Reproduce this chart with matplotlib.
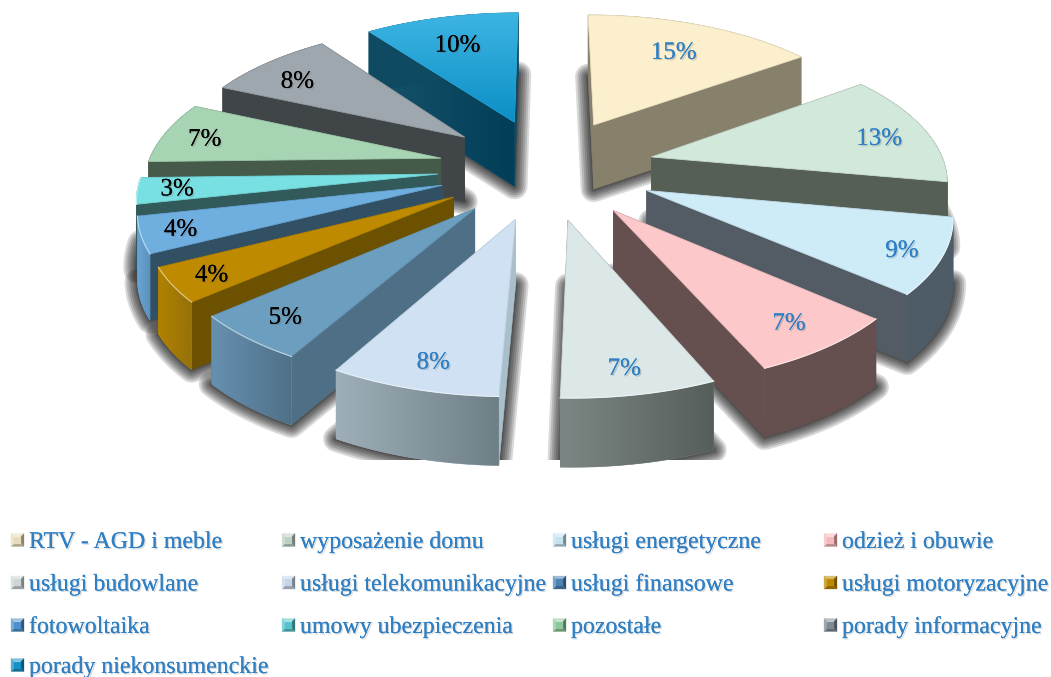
import numpy as np
from matplotlib import pyplot as plt
from matplotlib import patheffects as pe
from matplotlib.colors import LinearSegmentedColormap, to_rgb
from matplotlib.patches import Polygon, Rectangle

labels = ['RTV - AGD i meble', 'wyposażenie domu', 'usługi energetyczne', 'odzież i obuwie',
          'usługi budowlane', 'usługi telekomunikacyjne', 'usługi finansowe', 'usługi motoryzacyjne',
          'fotowoltaika', 'umowy ubezpieczenia', 'pozostałe', 'porady informacyjne',
          'porady niekonsumenckie']
# labels show these rounded, the slices use the finer share
values = [15, 12.9, 8.55, 7.05, 7.0, 7.7, 5.4, 3.9, 4.1, 3.0, 7.1, 8.3, 10]

top_colors = ['#FBEFCD', '#D2E8DA', '#CEEBF8', '#FCC8CA', '#DCE8E8', '#CFE1F2', '#6C9FBF',
              '#BE8B00', '#6FAFE0', '#78DFE2', '#A7D5B4', '#9FA7AE', '#1FA2D6']
side_colors = ['#87806B', '#565F56', '#535C65', '#654F4F', '#565F5C', '#A9BFCC', '#4E6F85',
               '#6B5100', '#325064', '#335A5B', '#465A4A', '#404548', '#0F4A62']
arc_left = ['#87806B', '#565F56', '#4E5C67', '#654F4F', '#7C8785', '#9FAFB9', '#6690B0',
            '#B08200', '#6BA5D5', '#335A5B', '#465A4A', '#404548', '#0F4A62']
arc_right = ['#87806B', '#565F56', '#4E5C67', '#654F4F', '#565E5A', '#6F7F86', '#4F7187',
             '#96710A', '#5B92BD', '#335A5B', '#465A4A', '#404548', '#0F4A62']
label_colors = ['#2E7FC4'] * 6 + ['black'] * 7
icon_colors = ['#E6DCB8', '#BDD0C3', '#C4E2F0', '#F5B9BC', '#CDD6D6', '#C6D6E8', '#4F83B5',
               '#BE8B00', '#4F8FCB', '#55C4C8', '#8CC79B', '#7F8A95', '#1590C4']
label_dx = [-9, 9, 22, 9, 1, -3, -12, -21, -23, -21, -15, -7, 3]
label_dy = [9, 5, 8, 7, 14, 12, 8, 9, 5, 2, 2, 5, 9]

# projection of the flat pie to the screen
cx, cy = 546.5, 168
sx, sy = 294, 136.5
persp = 0.14
explode = 0.37
depth = 65


def project(x, y):
    s = 1 / (1 + persp * y)
    return cx + sx * x * s, cy - sy * y * s


def drop(x, y):
    s = 1 / (1 + persp * y)
    return depth * s ** 0.3


def lighter(c, f):
    r = np.array(to_rgb(c))
    return tuple(r + (1 - r) * f)


def darker(c, f):
    return tuple(np.array(to_rgb(c)) * (1 - f))


def gradient_poly(pts, c0, c1, z, horizontal=True):
    # polygon filled with a linear gradient, left-right or top-bottom
    pts = np.asarray(pts)
    poly = Polygon(pts, closed=True, fc=c0, ec=c0, lw=0.4, zorder=z)
    ax.add_patch(poly)
    cmap = LinearSegmentedColormap.from_list('g', [c0, c1])
    ramp = np.linspace(0, 1, 128)
    ramp = ramp.reshape(1, -1) if horizontal else ramp.reshape(-1, 1)
    ext = (pts[:, 0].min(), pts[:, 0].max(), pts[:, 1].max(), pts[:, 1].min())
    im = ax.imshow(ramp, cmap=cmap, aspect='auto', extent=ext, zorder=z)
    im.set_clip_path(poly)


fig = plt.figure(figsize=(10.51, 6.77), dpi=100)
ax = fig.add_axes([0, 0, 1, 1])

edges = np.concatenate([[0], np.cumsum(values)]) * 3.6
wedges = []
for i, v in enumerate(values):
    a0, a1 = np.radians(edges[i]), np.radians(edges[i + 1])
    mid = (a0 + a1) / 2
    tx, ty = explode * np.sin(mid), explode * np.cos(mid)
    t = np.linspace(a0, a1, 40)
    wx = tx + np.sin(t)
    wy = ty + np.cos(t)
    wedges.append((i, mid, tx, ty, wx, wy))

# soft shadows under the slices
clip = Rectangle((0, 0), 1051, 460, transform=ax.transData)
for i, mid, tx, ty, wx, wy in wedges:
    px, py = project(np.r_[tx, wx], np.r_[ty, wy])
    py = py + drop(np.r_[tx, wx], np.r_[ty, wy])
    for w in [26, 22, 18, 14, 10, 6, 3]:
        p = Polygon(np.c_[px, py], closed=True, fc='none', ec='black', alpha=0.15,
                    lw=w * 0.72, joinstyle='round', zorder=1)
        ax.add_patch(p)
        p.set_clip_path(clip)

# slices from the back to the front
z = 2
for i, mid, tx, ty, wx, wy in sorted(wedges, key=lambda w: -w[3]):
    tipx, tipy = project(tx, ty)
    tipd = drop(tx, ty)
    px, py = project(wx, wy)
    pd = drop(wx, wy)

    for j in [-1, 0]:
        quad = [(tipx, tipy), (px[j], py[j]), (px[j], py[j] + pd[j]), (tipx, tipy + tipd)]
        if i == len(values) - 1 and j == 0:
            gradient_poly(quad, '#17536A', '#023E58', z)
        else:
            ax.add_patch(Polygon(quad, closed=True, fc=side_colors[i], ec=side_colors[i], lw=0.4, zorder=z))
    z += 1

    arc = np.c_[np.r_[px, px[::-1]], np.r_[py, (py + pd)[::-1]]]
    gradient_poly(arc, arc_left[i], arc_right[i], z)
    z += 1

    top = np.c_[np.r_[tipx, px], np.r_[tipy, py]]
    if i == len(values) - 1:
        gradient_poly(top, '#3DB5E3', '#0C8FC6', z, horizontal=False)
    else:
        ax.add_patch(Polygon(top, closed=True, fc=top_colors[i], ec=darker(top_colors[i], 0.06),
                             lw=0.6, zorder=z))
    z += 1
    if np.cos(mid) < 0:
        ax.plot(px, py, color=lighter(top_colors[i], 0.5), lw=0.9, zorder=z)
        z += 1

# percent labels
for i, mid, tx, ty, wx, wy in wedges:
    lx, ly = project(tx + 0.8 * np.sin(mid), ty + 0.8 * np.cos(mid))
    t = ax.text(lx + label_dx[i], ly + label_dy[i], '%.0f%%' % values[i], fontsize=18,
                family='Liberation Serif', color=label_colors[i], ha='center', va='center',
                zorder=z + 1)
    t.set_path_effects([pe.withSimplePatchShadow(offset=(1.0, -1.0), shadow_rgbFace='#555555', alpha=0.25),
                        pe.Normal()])

# legend
col_x = [29, 300, 571, 842]
row_y = [542.5, 585, 627.5, 667.5]
size = 13
for i, name in enumerate(labels):
    tx0 = col_x[i % 4]
    yy = row_y[i // 4]
    x0, y0 = tx0 - 18, yy - 2.5 - size / 2
    b = 3
    c = icon_colors[i]
    o = [(x0, y0), (x0 + size, y0), (x0 + size, y0 + size), (x0, y0 + size)]
    n = [(x0 + b, y0 + b), (x0 + size - b, y0 + b), (x0 + size - b, y0 + size - b), (x0 + b, y0 + size - b)]
    shades = [lighter(c, 0.45), darker(c, 0.4), darker(c, 0.25), lighter(c, 0.25)]
    for k in range(4):
        q = [o[k], o[(k + 1) % 4], n[(k + 1) % 4], n[k]]
        ax.add_patch(Polygon(q, closed=True, fc=shades[k], ec=shades[k], lw=0.2, zorder=z))
    ax.add_patch(Polygon(n, closed=True, fc=c, ec=c, lw=0.2, zorder=z))
    t = ax.text(tx0, yy, name, fontsize=17.2, family='Liberation Serif', color='#2E7FC4',
                ha='left', va='center', zorder=z)
    t.set_path_effects([pe.withSimplePatchShadow(offset=(1.0, -1.0), shadow_rgbFace='#555555', alpha=0.22),
                        pe.Normal()])

ax.set_xlim(0, 1051)
ax.set_ylim(677, 0)
ax.axis('off')
fig.savefig('out.png', dpi=100, facecolor='white')
